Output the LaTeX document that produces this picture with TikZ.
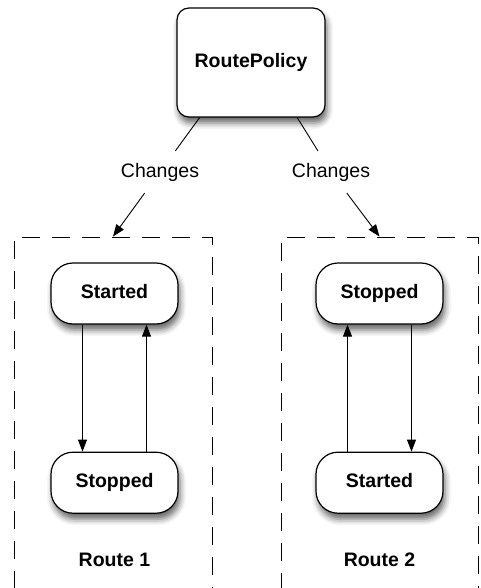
\documentclass[tikz,border=0pt]{standalone}
\usepackage{fontspec}
\setmainfont{Liberation Sans}
\usetikzlibrary{arrows.meta, positioning, shadows.blur}

\begin{document}
\begin{tikzpicture}[
    x=1pt, y=-1pt,
    node distance=127pt,
    policy/.style={rectangle, draw, line width=1.2pt, rounded corners=12pt, fill=white, minimum width=148pt, minimum height=109pt, font=\fontsize{19.5}{22}\selectfont\bfseries, blur shadow={shadow xshift=2pt, shadow yshift=-6pt, shadow blur radius=6pt, shadow opacity=60}},
    state/.style={rectangle, draw, line width=1.2pt, rounded corners=22pt, fill=white, minimum width=127pt, minimum height=61pt, text height=14pt, text depth=4pt, font=\fontsize{19.5}{22}\selectfont\bfseries, blur shadow={shadow xshift=2pt, shadow yshift=-6pt, shadow blur radius=6pt, shadow opacity=60}},
    route/.style={rectangle, draw, dash pattern=on 18pt off 12pt, line width=0.9pt, minimum width=198pt, minimum height=380pt},
    changes/.style={font=\fontsize{19.5}{22}\selectfont, inner xsep=4pt, inner ysep=11.8pt},
    title/.style={font=\fontsize{19.5}{22}\selectfont\bfseries},
    line/.style={line width=0.9pt},
    arrow/.style={-{Triangle[length=12pt, width=9pt]}, line width=0.9pt}
  ]
    \useasboundingbox (0,0) rectangle (480,588);
    \clip (0,0) rectangle (480,588);
    \node[route] (route1) at (113,427) {};
    \node[route, minimum width=197pt] (route2) at (379.5,427) {};
    \node[policy] (policy) at (251,62.5) {RoutePolicy};
    \node[changes] (chg1) at (160,172) {Changes};
    \node[changes] (chg2) at (331,172) {Changes};
    \node[state] (start1) at (114.5,293.5) {Started};
    \node[state, below=of start1] (stop1) {Stopped};
    \node[state] (stop2) at (379.5,293.5) {Stopped};
    \node[state, below=of stop2] (start2) {Started};
    \node[title, below=36pt of stop1] (name1) {Route 1};
    \node[title, below=36pt of start2] (name2) {Route 2};
    \draw[line] (policy.227) -- (chg1);
    \draw[arrow] (chg1) -- (route1.north);
    \draw[line] (policy.310) -- (chg2);
    \draw[arrow] (chg2) -- (route2.north);
    \draw[arrow] ([xshift=-32pt]start1.south) -- ([xshift=-32pt]stop1.north);
    \draw[arrow] ([xshift=32pt]stop1.north) -- ([xshift=32pt]start1.south);
    \draw[arrow] ([xshift=-32pt]start2.north) -- ([xshift=-32pt]stop2.south);
    \draw[arrow] ([xshift=32pt]stop2.south) -- ([xshift=32pt]start2.north);
  \end{tikzpicture}
\end{document}
